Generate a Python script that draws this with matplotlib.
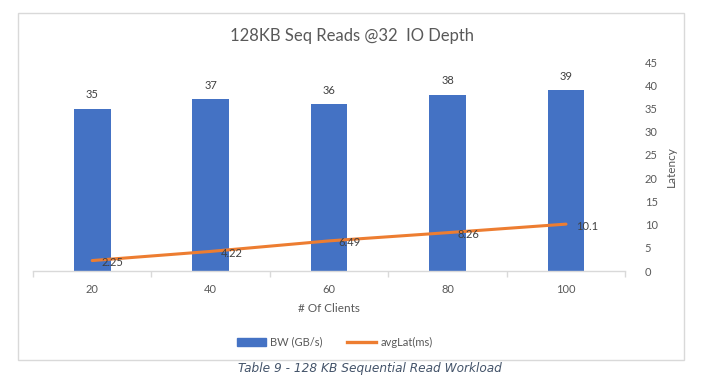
import matplotlib
matplotlib.use("Agg")
import matplotlib.pyplot as plt
from matplotlib.patches import Rectangle, Patch
from matplotlib.lines import Line2D

clients = ["20", "40", "60", "80", "100"]
bw = [35, 37, 36, 38, 39]
lat = [2.25, 4.22, 6.49, 8.26, 10.1]
lat_labels = ["2.25", "4.22", "6.49", "8.26", "10.1"]
yticks = [0, 5, 10, 15, 20, 25, 30, 35, 40, 45]

plt.rcParams['font.family'] = ['Lato', 'DejaVu Sans']
txt = "#595959"
blue = "#4472C4"
orange = "#ED7D31"

fig = plt.figure(figsize=(7.17, 3.81), dpi=100)
fig.patches.append(Rectangle((0.025, 0.055), 0.929, 0.911, transform=fig.transFigure,
                             fill=False, edgecolor="#D9D9D9", linewidth=1.0))

ax = fig.add_axes([0.046, 0.2887, 0.826, 0.5483])
x = list(range(len(clients)))
bars = ax.bar(x, bw, width=0.31, color=blue, zorder=2)
ax.set_ylim(0, 45)
ax.set_xlim(-0.5, len(clients) - 0.5)
for xi, v in zip(x, bw):
    ax.annotate(str(v), (xi, v), xytext=(0, 6), textcoords="offset points",
                ha="center", va="bottom", fontsize=8, color="#404040")
ax.plot(x, lat, color=orange, linewidth=2.2, zorder=3, solid_capstyle="round")
for xi, v, lab in zip(x, lat, lat_labels):
    ax.annotate(lab, (xi, v), xytext=(7, -1.5), textcoords="offset points",
                ha="left", va="center", fontsize=8, color="#404040", zorder=4)

for s in ["top", "left", "right"]:
    ax.spines[s].set_visible(False)
ax.spines["bottom"].set_color("#D9D9D9")
ax.spines["bottom"].set_linewidth(1.0)
ax.set_yticks([])
ax.set_xticks(x)
ax.set_xticklabels(clients, fontsize=8, color=txt)
ax.tick_params(axis="x", which="major", length=0, pad=9)
ax.set_xticks([i - 0.5 for i in range(len(clients) + 1)], minor=True)
ax.tick_params(axis="x", which="minor", length=4, color="#D9D9D9", width=1)
ax.set_xlabel("# Of Clients", fontsize=8.5, color=txt, labelpad=6)

ax2 = ax.twinx()
ax2.set_ylim(0, 45)
ax2.set_yticks(yticks)
ax2.set_yticklabels([str(t) for t in yticks], fontsize=8, color=txt)
ax2.tick_params(axis="y", length=0, pad=14)
for s in ["top", "left", "right", "bottom"]:
    ax2.spines[s].set_visible(False)
ax2.set_ylabel("Latency", fontsize=8.5, color=txt, labelpad=6)

fig.text(0.491, 0.905, "128KB Seq Reads @32  IO Depth", ha="center", va="center",
         fontsize=12, color=txt)

handles = [Patch(facecolor=blue, edgecolor=blue),
           Line2D([0], [0], color=orange, linewidth=2.4)]
fig.legend(handles, ["BW (GB/s)", "avgLat(ms)"], loc="center",
           bbox_to_anchor=(0.467, 0.102), ncol=2, frameon=False, fontsize=8,
           labelcolor=txt, handlelength=2.6, columnspacing=2.2, handletextpad=0.4)

fig.text(0.5155, 0.034, "Table 9 - 128 KB Sequential Read Workload", ha="center", va="center",
         fontsize=8.7, color="#44546A", style="italic", family="DejaVu Sans")

fig.savefig("out.png", dpi=100)
